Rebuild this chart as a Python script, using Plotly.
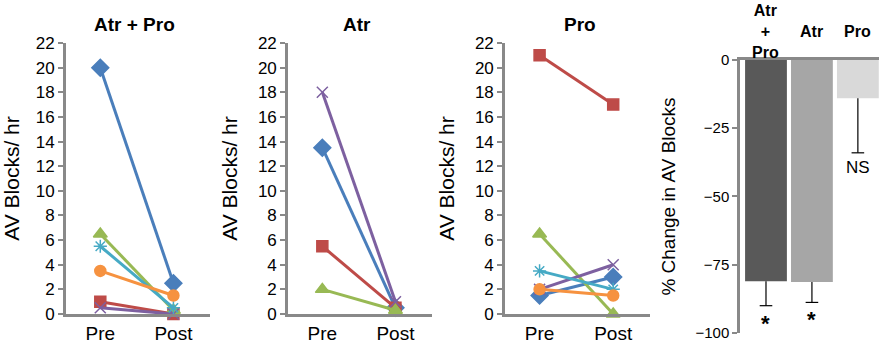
import plotly.graph_objects as go

# ---- data ----
phases = ["Pre", "Post"]

atr_pro_blue = [20, 2.5]
atr_pro_red = [1, 0]
atr_pro_green = [6.5, 0.3]
atr_pro_purple = [0.5, 0]
atr_pro_cyan = [5.5, 0.5]
atr_pro_orange = [3.5, 1.5]

atr_blue = [13.5, 0.5]
atr_red = [5.5, 0.5]
atr_green = [2, 0.3]
atr_purple = [18, 1]

pro_blue = [1.5, 3]
pro_red = [21, 17]
pro_green = [6.5, 0]
pro_purple = [2, 4]
pro_cyan = [3.5, 2]
pro_orange = [2, 1.5]

groups = ["Atr<br>+<br>Pro", "Atr", "Pro"]
pct_change = [-81, -81.3, -14]
pct_err = [9.0, 7.5, 20]
sig_labels = ["*", "*", "NS"]

panel_titles = ["Atr + Pro", "Atr", "Pro"]
y_ticks = [0, 2, 4, 6, 8, 10, 12, 14, 16, 18, 20, 22]
pct_ticks = [0, -25, -50, -75, -100]

# ---- styles ----
FONT = "Liberation Sans, Arial, sans-serif"
AX = "#898989"
styles = {
    "blue": dict(color="#4A7EBB", symbol="diamond", size=13),
    "red": dict(color="#BE4B48", symbol="square", size=11),
    "green": dict(color="#98B954", symbol="triangle-up", size=12),
    "purple": dict(color="#7D60A0", symbol="x-thin-open", size=11),
    "cyan": dict(color="#46AAC5", symbol="asterisk-open", size=11),
    "orange": dict(color="#F69240", symbol="circle", size=11),
}

panels = [
    [("blue", atr_pro_blue), ("red", atr_pro_red), ("green", atr_pro_green),
     ("purple", atr_pro_purple), ("cyan", atr_pro_cyan), ("orange", atr_pro_orange)],
    [("blue", atr_blue), ("red", atr_red), ("green", atr_green), ("purple", atr_purple)],
    [("blue", pro_blue), ("red", pro_red), ("green", pro_green),
     ("purple", pro_purple), ("cyan", pro_cyan), ("orange", pro_orange)],
]

fig = go.Figure()

xdoms = [(0.0750, 0.2389), (0.3276, 0.4915), (0.5745, 0.7395)]
title_pos = [0.476, 0.48, 0.517]
ydom = (0.0925, 0.8757)

for i, series in enumerate(panels):
    n = i + 1
    xa = "x" if n == 1 else f"x{n}"
    ya = "y" if n == 1 else f"y{n}"
    for name, vals in series:
        st = styles[name]
        fig.add_trace(go.Scatter(
            x=[0, 1], y=vals, mode="lines+markers", xaxis=xa, yaxis=ya,
            line=dict(color=st["color"], width=3),
            marker=dict(symbol=st["symbol"], size=st["size"], color=st["color"],
                        line=dict(color=st["color"], width=1.5)),
            showlegend=False, hoverinfo="skip", cliponaxis=False,
        ))
    xkey = "xaxis" if n == 1 else f"xaxis{n}"
    ykey = "yaxis" if n == 1 else f"yaxis{n}"
    fig.update_layout(**{
        xkey: dict(domain=list(xdoms[i]), anchor=ya, range=[-0.47, 1.5], automargin=False,
                   tickvals=[0, 1], ticktext=phases, showline=True, linecolor=AX,
                   linewidth=2.5, ticks="", showgrid=False, zeroline=False,
                   tickfont=dict(size=19, color="#000", family=FONT)),
        ykey: dict(domain=list(ydom), anchor=xa, range=[0, 22], tickvals=y_ticks,
                   automargin=False,
                   showline=True, linecolor=AX, linewidth=2.5, ticks="outside",
                   ticklen=5, tickcolor=AX, tickwidth=2, showgrid=False, zeroline=False,
                   tickfont=dict(size=17, color="#000", family=FONT),
                   title=dict(text="AV Blocks/ hr",
                              font=dict(size=21, color="#000", family=FONT))),
    })
    fig.add_annotation(text=f"<b>{panel_titles[i]}</b>", xref=f"{xa} domain", yref="paper",
                       x=title_pos[i], y=1 - 25 / 346, showarrow=False,
                       yanchor="middle", font=dict(size=19, color="#000", family=FONT))

# ---- bar panel ----
bar_colors = ["#595959", "#A6A6A6", "#D9D9D9"]
xs = list(range(len(groups)))
fig.add_trace(go.Bar(x=xs, y=pct_change, marker=dict(color=bar_colors, line=dict(width=0)),
                     width=0.91, xaxis="x4", yaxis="y4", showlegend=False, hoverinfo="skip"))
ex, ey, cx, cy = [], [], [], []
for i, (v, e) in enumerate(zip(pct_change, pct_err)):
    ex += [i, i, None]
    ey += [v, v - e, None]
    cx.append(i)
    cy.append(v - e)
fig.add_trace(go.Scatter(x=ex, y=ey, mode="lines", line=dict(color="#000", width=1.2),
                         xaxis="x4", yaxis="y4", showlegend=False, hoverinfo="skip"))
fig.add_trace(go.Scatter(x=cx, y=cy, mode="markers",
                         marker=dict(symbol="line-ew", size=9, line=dict(color="#000", width=1.2)),
                         xaxis="x4", yaxis="y4", showlegend=False, hoverinfo="skip"))
for i, (v, e, s) in enumerate(zip(pct_change, pct_err, sig_labels)):
    if s == "*":
        fig.add_annotation(text="<b>*</b>", x=i, y=v - e, xref="x4", yref="y4", showarrow=False,
                           yanchor="top", yshift=-3, font=dict(size=22, color="#000", family=FONT))
    else:
        fig.add_annotation(text=s, x=i, y=v - e, xref="x4", yref="y4", showarrow=False,
                           yanchor="top", yshift=-3, font=dict(size=17, color="#000", family=FONT))
for i, g in enumerate(groups):
    fig.add_annotation(text=f"<b>{g}</b>", x=i, y=1 - 31.5 / 346, xref="x4", yref="paper",
                       showarrow=False, yanchor="middle", borderpad=0,
                       font=dict(size=16, color="#000", family=FONT))

fig.update_layout(
    xaxis4=dict(domain=[0.8419, 1.0], anchor="y4", range=[-0.565, 2.46], side="top",
                automargin=False,
                showline=True, linecolor=AX, linewidth=2.5, showticklabels=False, ticks="",
                showgrid=False, zeroline=False),
    yaxis4=dict(domain=[0.0376, 0.8266], anchor="x4", range=[-100, 0], tickvals=pct_ticks,
                automargin=False,
                showline=True, linecolor=AX, linewidth=2.5, ticks="outside", ticklen=5,
                tickcolor=AX, tickwidth=2, showgrid=False, zeroline=False,
                tickfont=dict(size=15, color="#000", family=FONT),
                title=dict(text="% Change in AV Blocks",
                           font=dict(size=19, color="#000", family=FONT))),
    width=879, height=346, margin=dict(l=0, r=0, t=0, b=0, autoexpand=False),
    paper_bgcolor="white", plot_bgcolor="white",
    font=dict(family=FONT, color="#000"),
)

fig.write_html("out.html", config={"displayModeBar": False},
               post_script="document.body.style.margin='0';")
